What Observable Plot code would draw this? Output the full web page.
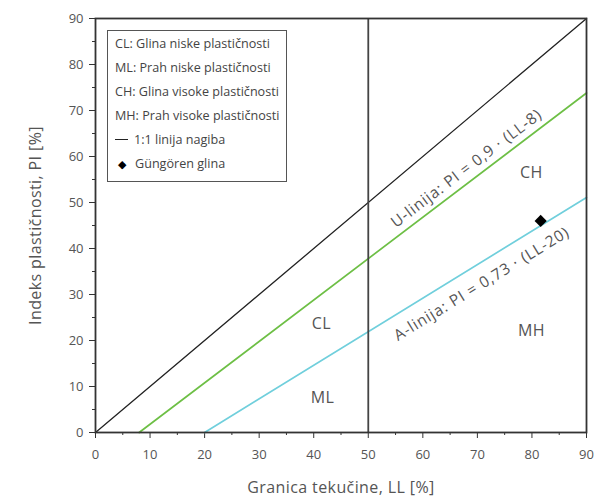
<!DOCTYPE html>
<html>
<head>
<meta charset="utf-8">
<script src="https://cdn.jsdelivr.net/npm/d3@7"></script>
<script src="https://cdn.jsdelivr.net/npm/@observablehq/plot@0.6"></script>
<style>
  body { margin: 0; background: #fff; }
  #chart { position: relative; width: 595px; height: 504px; font-family: "Open Sans", sans-serif; }
  #chart .line-label text { letter-spacing: 0.85px; }
  #chart .axis-title text { letter-spacing: 0.4px; }
  #legend {
    position: absolute; left: 107px; top: 30px; width: 180px; height: 152px;
    box-sizing: border-box; border: 1.3px solid #555; background: #fff;
    padding: 0 0 0 7px; font-size: 12.6px; color: #444;
  }
  #legend .row { height: 24px; display: flex; align-items: center; white-space: nowrap; }
  #legend .sym { display: inline-block; width: 14px; margin-right: 6px; text-align: center; }
  #legend .line { border-top: 1.6px solid #222; height: 0; width: 13px; margin-right: 6px; }
</style>
</head>
<body>
<div id="chart"></div>
<script>
// Axis extents and ticks (liquid limit LL, plasticity index PI)
const llDomain = [0, 90];
const piDomain = [0, 90];
const majorTicks = [0, 10, 20, 30, 40, 50, 60, 70, 80, 90];
const minorTicks = [5, 15, 25, 35, 45, 55, 65, 75, 85];

// Reference lines
const slopeLineLL = [0, 90];          // 1:1 line
const uLineLL = [8, 90];              // U-line: PI = 0.9 (LL - 8)
const aLineLL = [20, 90];             // A-line: PI = 0.73 (LL - 20)
const boundaryLL = 50;                // low / high plasticity boundary

// Soil sample
const sampleLL = [81.6];
const samplePI = [46];

// Zone codes and where they sit
const zoneCodes = ["CL", "ML", "CH", "MH"];
const zoneLL = [41.4, 41.6, 79.9, 79.9];
const zonePI = [23.7, 7.6, 56.5, 22.2];

// Legend entries
const legendKeys = ["CL:", "ML:", "CH:", "MH:"];
const legendNames = ["Glina niske plastičnosti", "Prah niske plastičnosti", "Glina visoke plastičnosti", "Prah visoke plastičnosti"];
const slopeLabel = "1:1 linija nagiba";
const sampleLabel = "Güngören glina";

const uText = "U-linija: PI = 0,9 · (LL-8)";
const aText = "A-linija: PI = 0,73 · (LL-20)";
const xTitle = "Granica tekučine, LL [%]";
const yTitle = "Indeks plastičnosti, PI [%]";

const W = 595, H = 504;
const mL = 95, mR = 9, mT = 18, mB = 72;
const pxX = (W - mL - mR) / (llDomain[1] - llDomain[0]);
const pxY = (H - mT - mB) / (piDomain[1] - piDomain[0]);
const angle = (k) => -Math.atan(k * pxY / pxX) * 180 / Math.PI;

const uPI = (ll) => 0.9 * (ll - 8);
const aPI = (ll) => 0.73 * (ll - 20);

const slopeLine = slopeLineLL.map(ll => ({ll, pi: ll}));
const uLine = uLineLL.map(ll => ({ll, pi: uPI(ll)}));
const aLine = aLineLL.map(ll => ({ll, pi: aPI(ll)}));
const sample = sampleLL.map((ll, i) => ({ll, pi: samplePI[i]}));
const zones = zoneCodes.map((code, i) => ({code, ll: zoneLL[i], pi: zonePI[i]}));

// y-axis title sits 60px left of the frame, centred on the PI range
const yTitlePos = [{ll: llDomain[0] - 60 / pxX, pi: (piDomain[0] + piDomain[1]) / 2}];

const gray = "#555";
const chart = Plot.plot({
  width: W, height: H,
  marginLeft: mL, marginRight: mR, marginTop: mT, marginBottom: mB,
  style: { fontFamily: "'Open Sans', sans-serif", color: gray, background: "#fff" },
  x: { domain: llDomain },
  y: { domain: piDomain },
  marks: [
    Plot.axisX({ ticks: minorTicks, tickSize: 3, tickFormat: () => "", stroke: "#333", label: null }),
    Plot.axisX({ ticks: majorTicks, tickSize: 6, tickPadding: 11, fontSize: 13, stroke: "#333", label: null }),
    Plot.axisY({ ticks: minorTicks, tickSize: 3, tickFormat: () => "", stroke: "#333", label: null }),
    Plot.axisY({ ticks: majorTicks, tickSize: 6, tickPadding: 6, fontSize: 13, stroke: "#333", label: null }),
    Plot.line(uLine, { x: "ll", y: "pi", stroke: "#6dbf45", strokeWidth: 1.7 }),
    Plot.line(aLine, { x: "ll", y: "pi", stroke: "#70cfdc", strokeWidth: 1.7 }),
    Plot.line(slopeLine, { x: "ll", y: "pi", stroke: "#222", strokeWidth: 1.3 }),
    Plot.ruleX([boundaryLL], { stroke: "#444", strokeWidth: 1.8 }),
    Plot.frame({ stroke: "#333", strokeWidth: 1.8 }),
    Plot.text([uText], { x: 68.0, y: 57.4, rotate: angle(0.9), fontSize: 15.5, fill: gray, className: "line-label" }),
    Plot.text([aText], { x: 70.8, y: 32.3, rotate: angle(0.73), fontSize: 15.5, fill: gray, className: "line-label" }),
    Plot.text(zones, { x: "ll", y: "pi", text: "code", fontSize: 16, fill: gray, className: "axis-title" }),
    Plot.dot(sample, { x: "ll", y: "pi", symbol: "diamond2", r: 5.5, fill: "#000", stroke: "none" }),
    Plot.text([xTitle], { frameAnchor: "bottom", dy: 60, fontSize: 16, fill: gray, className: "axis-title" }),
    Plot.text(yTitlePos, { x: "ll", y: "pi", text: () => yTitle, textAnchor: "middle", rotate: -90, fontSize: 16, fill: gray, className: "axis-title" })
  ]
});
const root = document.getElementById("chart");
root.appendChild(chart);

// Legend box drawn over the plot area
const legend = document.createElement("div");
legend.id = "legend";
legendKeys.forEach((k, i) => {
  const row = document.createElement("div");
  row.className = "row";
  row.textContent = k + " " + legendNames[i];
  legend.appendChild(row);
});
const lineRow = document.createElement("div");
lineRow.className = "row";
lineRow.innerHTML = `<span class="line"></span>${slopeLabel}`;
legend.appendChild(lineRow);
const dotRow = document.createElement("div");
dotRow.className = "row";
dotRow.innerHTML = `<span class="sym" style="font-size:11px;color:#000">◆</span>${sampleLabel}`;
legend.appendChild(dotRow);
root.appendChild(legend);
</script>
</body>
</html>
